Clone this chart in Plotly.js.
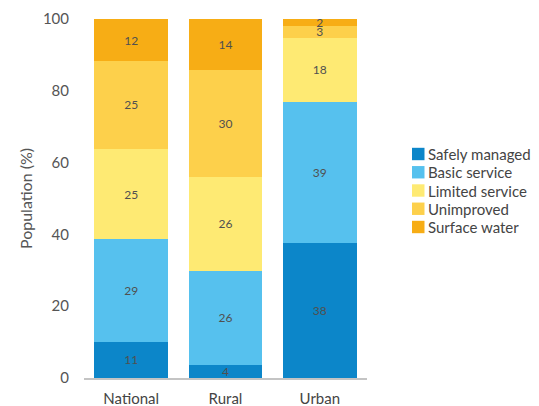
<!DOCTYPE html>
<html>
<head>
<meta charset="utf-8">
<script src="https://cdn.plot.ly/plotly-3.0.1.min.js"></script>
<style>html,body{margin:0;padding:0;background:#fff;}#chart{width:539px;height:406px;}</style>
</head>
<body>
<div id="chart"></div>
<script>
const categories = ["National", "Rural", "Urban"];
const seriesNames = ["Safely managed", "Basic service", "Limited service", "Unimproved", "Surface water"];
const safelyManaged = [10.1, 3.7, 37.6];
const basicService = [28.5, 26.1, 39.4];
const limitedService = [25.2, 26.2, 17.8];
const unimproved = [24.5, 29.9, 3.2];
const surfaceWater = [11.7, 14.1, 2.0];
const safelyLabels = ["11", "4", "38"];
const basicLabels = ["29", "26", "39"];
const limitedLabels = ["25", "26", "18"];
const unimprovedLabels = ["25", "30", "3"];
const surfaceLabels = ["12", "14", "2"];
const colors = ["#0c86c9", "#56c1ee", "#feea73", "#fdd04b", "#f7ad15"];

const values = [safelyManaged, basicService, limitedService, unimproved, surfaceWater];
const labels = [safelyLabels, basicLabels, limitedLabels, unimprovedLabels, surfaceLabels];

const FONT = "Lato, 'Open Sans', sans-serif";

const traces = values.map((v, i) => ({
  type: "bar",
  name: seriesNames[i],
  x: categories,
  y: v,
  text: labels[i],
  textposition: "inside",
  insidetextanchor: "middle",
  textangle: 0,
  textfont: {family: FONT, size: 12, color: "#505050"},
  marker: {color: colors[i], line: {width: 0}},
  showlegend: false,
  hoverinfo: "skip"
}));

// Plot area in pixels (for placing the custom legend)
const W = 539, H = 406, L = 84, R = 172, T = 19, B = 28;
const pw = W - L - R, ph = H - T - B;
const px = p => (p - L) / pw;
const py = p => (H - B - p) / ph;

const shapes = [];
const annotations = [];
seriesNames.forEach((name, i) => {
  const cy = 154 + 18.25 * i;
  shapes.push({
    type: "rect", xref: "paper", yref: "paper",
    x0: px(412), x1: px(424.5), y0: py(cy + 6.2), y1: py(cy - 6.2),
    fillcolor: colors[i], line: {width: 0}
  });
  annotations.push({
    xref: "paper", yref: "paper", x: px(426), y: py(cy),
    xanchor: "left", yanchor: "middle", showarrow: false,
    text: name, font: {family: FONT, size: 15, color: "#444"}
  });
});

const layout = {
  width: W, height: H,
  margin: {l: L, r: R, t: T, b: B},
  barmode: "stack",
  bargap: 0.22,
  paper_bgcolor: "#fff",
  plot_bgcolor: "#fff",
  showlegend: false,
  uniformtext: {minsize: 12, mode: "show"},
  font: {family: FONT, color: "#555"},
  shapes: shapes,
  annotations: annotations,
  xaxis: {
    type: "category",
    showline: true, linecolor: "#c4c4c4", linewidth: 2,
    ticks: "", showgrid: false, zeroline: false,
    tickfont: {family: FONT, size: 15, color: "#444"},
    ticklabelstandoff: 6,
    automargin: false
  },
  yaxis: {
    range: [0, 100],
    tickvals: [0, 20, 40, 60, 80, 100],
    showgrid: false, zeroline: false, showline: false,
    ticks: "",
    tickfont: {family: FONT, size: 15, color: "#555"},
    ticklabelstandoff: 14,
    title: {text: "Population (%)", font: {family: FONT, size: 16, color: "#555"}, standoff: 6},
    automargin: false
  }
};

Plotly.newPlot("chart", traces, layout, {displayModeBar: false, staticPlot: true});
</script>
</body>
</html>
